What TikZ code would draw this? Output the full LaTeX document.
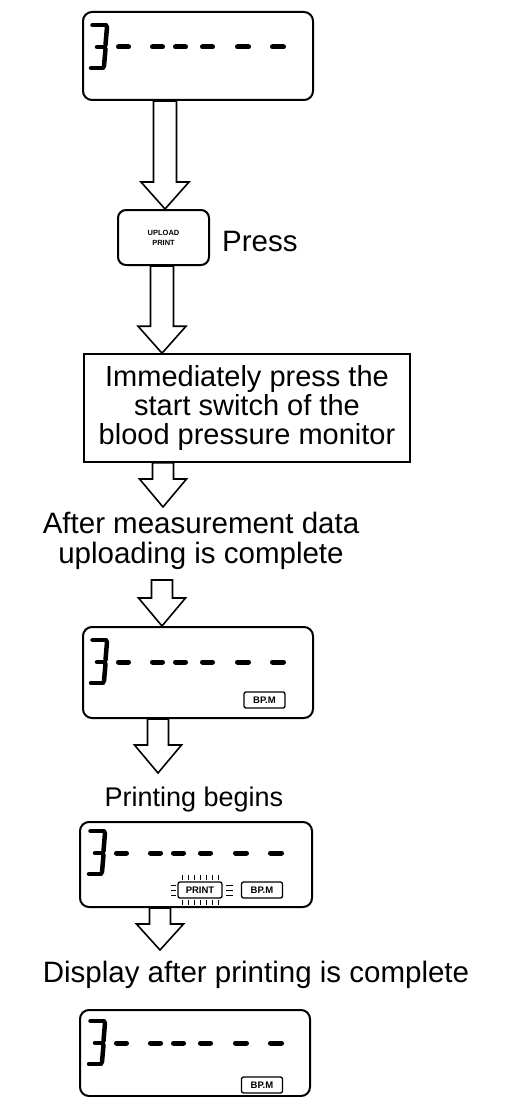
\documentclass[tikz,border=0pt]{standalone}
\usepackage{fontspec}
\setmainfont{Liberation Sans}
\usetikzlibrary{calc}
\tikzset{
  lcdbox/.style={draw, line width=2pt, rounded corners=9pt, inner sep=0pt},
  keybox/.style={draw, line width=2pt, rounded corners=8pt, inner sep=0pt, minimum width=91pt, minimum height=55pt, align=center, font=\fontsize{7.5}{10}\selectfont\bfseries},
  stepbox/.style={draw, line width=1.6pt, inner sep=0pt, minimum width=326pt, minimum height=108pt, align=center, font=\fontsize{29}{29}\selectfont},
  bigtext/.style={inner sep=0pt, font=\fontsize{29.5}{29.5}\selectfont, align=center},
  blockarr/.style={draw, line width=1.6pt, fill=white, line join=miter},
  segline/.style={line width=4.5pt, line cap=round},
  dashline/.style={line width=5pt, line cap=round},
  tag/.style={draw, line width=1.3pt, rounded corners=2pt, inner sep=0pt, minimum width=41pt, minimum height=16pt, font=\fontsize{9.5}{9.5}\selectfont\bfseries},
  tick/.style={line width=1pt},
  pics/lcdrow/.style={code={
    \draw[segline] (2.5,-22) -- (16,-22);
    \draw[segline] (17,-20) -- (15.5,-2);
    \draw[segline] (7,0) -- (14.5,0);
    \draw[segline] (15.5,2) -- (14,19);
    \draw[segline] (1,21) -- (13,21);
    \foreach \a/\b in {28.5/38.5, 62.5/72.5, 85.5/95.5, 112.5/122.5, 147.5/158.5, 182.5/193.5}
      \draw[dashline] (\a,0) -- (\b,0);
  }},
}
% #1 start, #2 tip, #3 shaft half width, #4 head half width, #5 head length
\newcommand\blockarrow[5]{%
  \draw[blockarr] let \p1=#1, \p2=#2 in
    ({\x1-#3pt},\y1) -- ({\x1-#3pt},{\y2+#5pt}) -- ({\x1-#4pt},{\y2+#5pt}) -- (\x1,\y2)
    -- ({\x1+#4pt},{\y2+#5pt}) -- ({\x1+#3pt},{\y2+#5pt}) -- ({\x1+#3pt},\y1) -- cycle;
}
\begin{document}
\begin{tikzpicture}[x=1pt,y=-1pt]
\useasboundingbox (0,0) rectangle (507,1097);

% boxes and texts
\node[lcdbox, minimum width=230pt, minimum height=88pt] (box1) at (198,56) {};
\pic at (90,47) {lcdrow};

\node[keybox] (key) at (163.5,237.5) {UPLOAD\\PRINT};
\node[bigtext, anchor=base west] (press) at (222,251) {Press};

\node[stepbox] (step) at (247,408) {Immediately press the\\start switch of the\\blood pressure monitor};

\node[bigtext] (after) at (201,541) {After measurement data\\uploading is complete};

\node[lcdbox, minimum width=230pt, minimum height=91pt] (box4) at (198,672.5) {};
\pic at (90,662) {lcdrow};
\node[tag] (bpm4) at (264.5,700) {BP.M};

\node[bigtext, anchor=base, font=\fontsize{27}{29}\selectfont] (printing) at (194,806) {Printing begins};

\node[lcdbox, minimum width=232pt, minimum height=85pt] (box5) at (196,864.5) {};
\pic at (88,853) {lcdrow};
\node[tag, minimum width=44pt] (printtag) at (200,890) {PRINT};
\node[tag] (bpm5) at (262,890) {BP.M};
\foreach \x in {182,188,...,218} {
  \draw[tick] (\x,875) -- (\x,880);
  \draw[tick] (\x,900) -- (\x,905);
}
\foreach \y in {885,890,895} {
  \draw[tick] (171,\y) -- (176,\y);
  \draw[tick] (226,\y) -- (233,\y);
}

\node[bigtext, anchor=base] (display) at (256,982) {Display after printing is complete};

\node[lcdbox, minimum width=230pt, minimum height=86pt] (box6) at (195,1053) {};
\pic at (88,1043) {lcdrow};
\node[tag] (bpm6) at (262,1085) {BP.M};

% arrow axes
\coordinate (c1) at (165,0);
\coordinate (c2) at (162,0);
\coordinate (c3) at (163,0);
\coordinate (c5) at (158,0);
\coordinate (c6) at (160,0);
\coordinate (a3end) at (163,507);
\coordinate (a4start) at (162,580);
\coordinate (a5end) at (158,773);
\coordinate (a6end) at (160,950);

\blockarrow{(c1 |- box1.south)}{(c1 |- key.north)}{11.5}{24}{27}
\blockarrow{(c2 |- key.south)}{(c2 |- step.north)}{11.5}{24}{27}
\blockarrow{(c3 |- step.south)}{(a3end)}{10.5}{23.5}{28}
\blockarrow{(a4start)}{(a4start |- box4.north)}{10.5}{23.5}{28}
\blockarrow{(c5 |- box4.south)}{(a5end)}{10.5}{23.5}{28}
\blockarrow{(c6 |- box5.south)}{(a6end)}{10.5}{23.5}{26}
\end{tikzpicture}
\end{document}
